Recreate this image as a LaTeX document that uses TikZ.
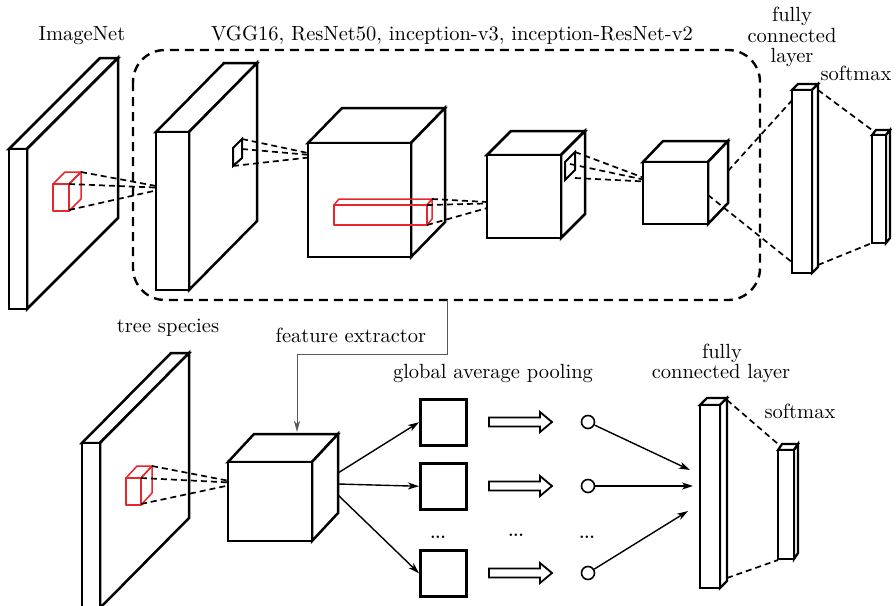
\documentclass[tikz,border=0pt]{standalone}
\usepackage{fontspec}
\setmainfont{lmroman10-regular}[Extension=.otf, BoldFont=lmroman10-bold]
\usetikzlibrary{arrows.meta}
\definecolor{mapred}{HTML}{E8262B}
% cuboid: [style]{x}{y}{width}{height}{depth dx}{depth dy}
\newcommand{\cuboid}[7][]{%
  \draw[#1] (#2,#3) -- ++(#6,-#7) -- ++(#4,0) -- ++(-#6,#7) -- cycle;
  \draw[#1] (#2,#3) ++(#4,0) -- ++(#6,-#7) -- ++(0,#5) -- ++(-#6,#7) -- cycle;
  \draw[#1] (#2,#3) rectangle ++(#4,#5);
}
\begin{document}
\begin{tikzpicture}[x=1pt,y=-1pt,
  solid box/.style={line width=2.5pt, fill=white, line join=miter},
  red box/.style={line width=1.5pt, draw=mapred, line join=round},
  ray/.style={line width=1.7pt, dash pattern=on 6pt off 4pt},
  ray tip/.style={ray, -{Stealth[length=9pt,width=6pt]}},
  flow/.style={line width=1.4pt, -{Stealth[length=11pt,width=7pt,inset=3pt]}},
  hollow/.style={line width=1.8pt, fill=white, line join=miter},
  dots/.style={font=\fontsize{16}{18}\selectfont\bfseries, inner sep=0pt},
  label/.style={font=\fontsize{20.5}{23}\selectfont, inner sep=0pt, anchor=base}]
\useasboundingbox (0,0) rectangle (896,605);

% ---------------- upper row: pretraining on ImageNet ----------------
\draw[line width=2.4pt, dash pattern=on 9pt off 6pt, rounded corners=32pt]
  (133,50) rectangle (760,300);

\cuboid[solid box]{9}{149}{18}{160}{91}{91}
\cuboid[red box]{53}{184}{16}{27}{12}{12}
\coordinate (inA) at (167,188);
\draw[ray] (81,172) -- (inA);
\draw[ray] (69,184) -- (inA);
\draw[ray tip] (69,210) -- (inA);

\cuboid[solid box]{156}{132}{33}{158}{68}{69}
\draw[line width=2pt] (233,148) -- (242,139) -- (242,158) -- (233,166) -- cycle;
\coordinate (inB) at (322,156);
\draw[ray] (242,139) -- (inB);
\draw[ray] (242,149) -- (inB);
\draw[ray tip] (233,166) -- (inB);

\cuboid[solid box]{308}{143}{103}{114}{34}{35}
\cuboid[red box]{334}{205}{93}{20}{5}{6}
\coordinate (inC) at (505,203);
\draw[ray] (432,199) -- (inC);
\draw[ray] (427,205) -- (inC);
\draw[ray tip] (427,225) -- (inC);

\cuboid[solid box]{487}{155}{74}{83}{24}{24}
\draw[line width=2pt] (565,162) -- (575,152) -- (575,170) -- (565,180) -- cycle;
\coordinate (inD) at (655,182);
\draw[ray] (575,152) -- (inD);
\draw[ray] (570,164) -- (inD);
\draw[ray tip] (575,178) -- (inD);

\cuboid[solid box]{643}{162}{65}{62}{20}{21}
\coordinate (fcTopIn) at (795,97);
\coordinate (fcBotIn) at (793,263);
\draw[ray] (728,171) -- (fcTopIn);
\draw[ray] (708,195) -- (fcBotIn);

\cuboid[solid box, line width=2.2pt]{792}{90}{20}{183}{6}{6}
\cuboid[solid box, line width=2.2pt]{872}{135}{14}{108}{4}{5}
\draw[ray] (818,90) -- (872,130);
\draw[ray] (818,265) -- (872,243);

\node[label] (tImg) at (82,40) {ImageNet};
\node[label] (tNets) at (452,40) {VGG16, ResNet50, inception-v3, inception-ResNet-v2};
\node[label] (tFc1) at (792,21) {fully};
\node[label] (tFc2) at (792,42) {connected};
\node[label] (tFc3) at (792,62) {layer};
\node[label] (tSm1) at (856,80) {softmax};

% ---------------- lower row: transfer to tree species ----------------
\cuboid[solid box]{82}{443}{18}{165}{89}{90}
\cuboid[red box]{126}{478}{15}{27}{11}{12}
\coordinate (inE) at (240,483);
\draw[ray] (152,466) -- (inE);
\draw[ray] (141,478) -- (inE);
\draw[ray tip] (141,504) -- (inE);

\cuboid[solid box]{228}{462}{84}{79}{26}{28}
\coordinate (fe) at (297,432);
\draw[gray!70!black, line width=1pt, -{Stealth[length=11pt,width=6pt,inset=3pt]}]
  (447,300) -- (447,354) -- (297,354) -- (fe);

\coordinate (src1) at (338,473);
\coordinate (src2) at (338,484);
\coordinate (src3) at (338,495);

\foreach \i/\y in {1/398, 2/462, 3/549} {
  \node[draw, line width=2.5pt, minimum width=46pt, minimum height=46pt,
        inner sep=0pt, anchor=north west] (gap\i) at (419,\y) {};
  \draw[hollow] (489,\y+19.5) -- (540,\y+19.5) -- (540,\y+14) -- (552,\y+24)
     -- (540,\y+34) -- (540,\y+28.5) -- (489,\y+28.5) -- cycle;
  \node[draw, circle, line width=1.6pt, minimum size=13pt, inner sep=0pt]
     (c\i) at (588,\y+24) {};
}
\draw[flow] (src1) -- (gap1.west);
\draw[flow] (src2) -- (gap2.west);
\draw[flow] (src3) -- (gap3.west);

\coordinate (fcIn1) at (690,470);
\coordinate (fcIn2) at (693,486);
\coordinate (fcIn3) at (688,511);
\draw[flow] (c1) -- (fcIn1);
\draw[flow] (c2) -- (fcIn2);
\draw[flow] (c3) -- (fcIn3);

\node[dots] (d1) at (438,537) {...};
\node[dots] (d2) at (516,535) {...};
\node[dots] (d3) at (587,537) {...};

\cuboid[solid box, line width=2.2pt]{700}{405}{20}{183}{7}{7}
\cuboid[solid box, line width=2.2pt]{778}{450}{16}{109}{4}{6}
\draw[ray] (727,400) -- (778,444);
\draw[ray] (727,578) -- (778,560);

\node[label] (tTree) at (168,332) {tree species};
\node[label] (tFe) at (351,342) {feature extractor};
\node[label] (tGap) at (493,378) {global average pooling};
\node[label] (tFc4) at (722,358) {fully};
\node[label] (tFc5) at (721,378) {connected layer};
\node[label] (tSm2) at (800,418) {softmax};
\end{tikzpicture}
\end{document}
